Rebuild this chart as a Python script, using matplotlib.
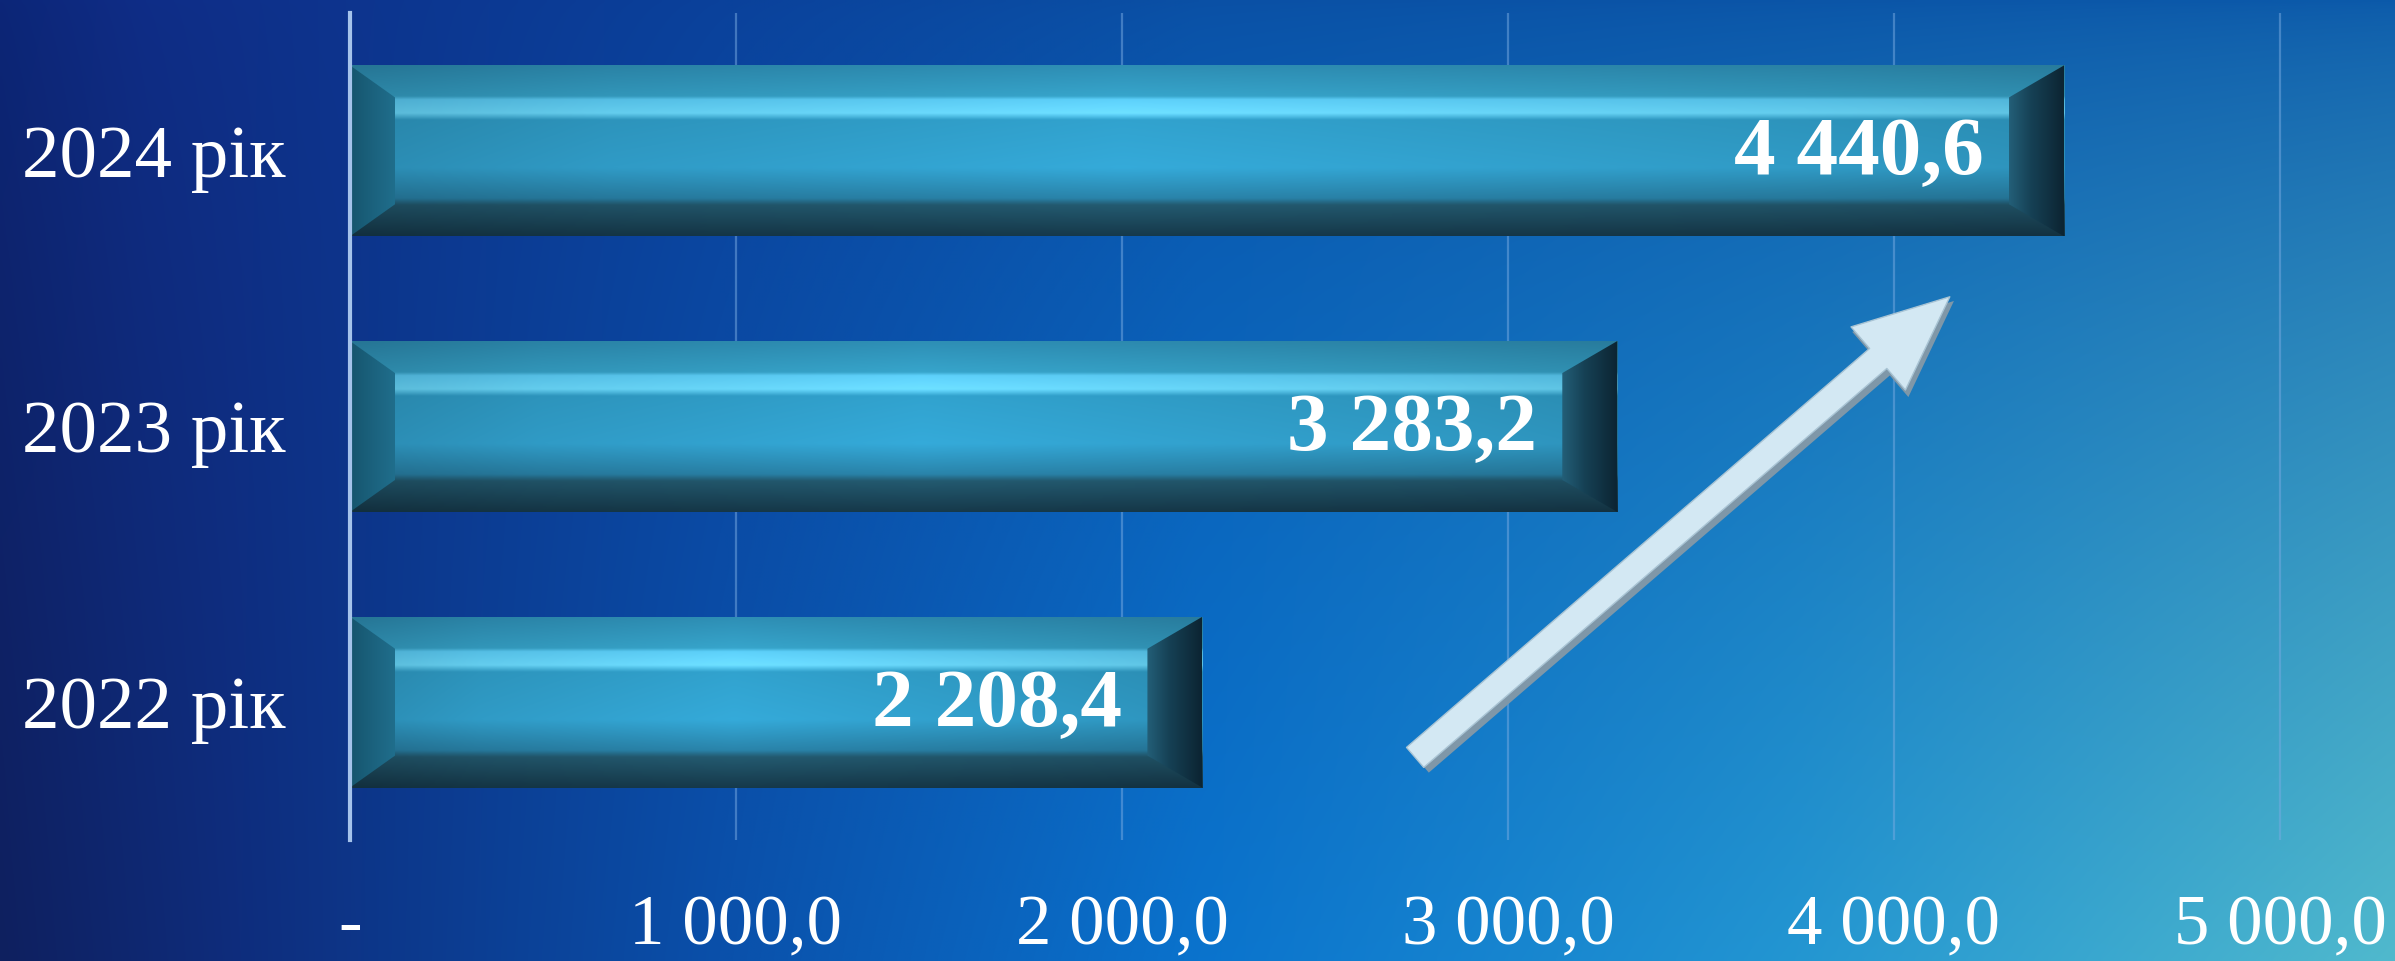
import numpy as np
import matplotlib
matplotlib.use("Agg")
import matplotlib.pyplot as plt
import matplotlib.transforms as mtransforms
from matplotlib.patches import Polygon, FancyArrowPatch

# ---- data ----
categories = ["2022 рік", "2023 рік", "2024 рік"]
values = [2208.4, 3283.2, 4440.6]
value_labels = ["2 208,4", "3 283,2", "4 440,6"]
xticks = [0, 1000, 2000, 3000, 4000, 5000]
xtick_labels = ["-", "1 000,0", "2 000,0", "3 000,0", "4 000,0", "5 000,0"]

W, H, DPI = 23.95, 9.61, 100
fig = plt.figure(figsize=(W, H), dpi=DPI)

# ---- background gradient ----
def ramp(stops, n):
    xs = np.linspace(0, 1, n)
    pos = [s[0] for s in stops]
    cols = np.array([s[1] for s in stops], float) / 255.0
    return np.stack([np.interp(xs, pos, cols[:, k]) for k in range(3)], axis=1)

nx, ny = 600, 240
top = ramp([(0, (12, 38, 120)), (0.06, (15, 45, 135)), (0.3, (10, 65, 155)),
            (0.5, (10, 80, 165)), (1.0, (12, 90, 170))], nx)
bot = ramp([(0, (15, 32, 95)), (0.1, (14, 45, 125)), (0.3, (10, 80, 170)), (0.5, (10, 115, 205)),
            (0.75, (35, 150, 210)), (1.0, (80, 185, 205))], nx)
t = (np.linspace(0, 1, ny) ** 0.7)[:, None, None]
bg = top[None, :, :] * (1 - t) + bot[None, :, :] * t
bgax = fig.add_axes([0, 0, 1, 1], zorder=-10)
bgax.imshow(bg, aspect="auto", extent=(0, 1, 1, 0), interpolation="bilinear")
bgax.set_axis_off()

# ---- main axes ----
ax = fig.add_axes([350 / 2395, 121 / 961, 1 - 350 / 2395, (840 - 13) / 961])
ax.set_facecolor("none")
ypos = np.arange(len(categories))
bar_h = 0.62
bars = ax.barh(ypos, values, height=bar_h, color="#2b8db8", zorder=3)

xmax = 5298
ax.set_xlim(0, xmax)
ax.set_ylim(-0.5, 2.5)

# bevel sizes (pixels -> data)
ax_w_px = (2395 - 350)
ax_h_px = (840 - 13)
bwl = 45 * xmax / ax_w_px
bwr = 55 * xmax / ax_w_px
bh = 32 * 3.0 / ax_h_px

# vertical profile of bar face (top -> bottom)
prof = ramp([(0.0, (42, 130, 165)), (0.18, (50, 150, 185)), (0.20, (85, 190, 228)),
             (0.28, (100, 205, 238)), (0.32, (45, 148, 188)), (0.6, (48, 155, 198)),
             (0.78, (38, 120, 155)), (0.82, (32, 82, 102)), (1.0, (20, 52, 68))], 200)
hfac = np.interp(np.linspace(0, 1, 300), [0, 0.15, 0.45, 0.85, 1], [0.9, 1.0, 1.1, 1.0, 0.95])
face = np.clip(prof[:, None, :] * hfac[None, :, None], 0, 1)
rgrad = ramp([(0, (35, 95, 120)), (0.4, (22, 65, 85)), (1.0, (12, 36, 50))], 100)[None, :, :]
lgrad = ramp([(0, (22, 85, 110)), (1.0, (32, 110, 140))], 100)[None, :, :]

for b, v, y in zip(bars, values, ypos):
    y0, y1 = y - bar_h / 2, y + bar_h / 2
    im = ax.imshow(face, aspect="auto", extent=(0, v, y0, y1), zorder=4,
                   interpolation="bilinear")
    im.set_clip_path(b)
    left = Polygon([(0, y1), (bwl, y1 - bh), (bwl, y0 + bh), (0, y0)], closed=True,
                   facecolor="none", lw=0, zorder=5)
    ax.add_patch(left)
    iml = ax.imshow(lgrad, aspect="auto", extent=(0, bwl, y0, y1), zorder=5,
                    interpolation="bilinear")
    iml.set_clip_path(left)
    right = Polygon([(v, y1), (v - bwr, y1 - bh), (v - bwr, y0 + bh), (v, y0)],
                    closed=True, facecolor="none", lw=0, zorder=5)
    ax.add_patch(right)
    imr = ax.imshow(rgrad, aspect="auto", extent=(v - bwr, v, y0, y1), zorder=5,
                    interpolation="bilinear")
    imr.set_clip_path(right)

ax.set_xlim(0, xmax)
ax.set_ylim(-0.5, 2.5)

# value labels
for v, y, lab in zip(values, ypos, value_labels):
    ax.annotate(lab, (v, y), xytext=(-58, -3), textcoords="offset points",
                ha="right", va="center", color="white", fontsize=60,
                fontweight="bold", family="Liberation Serif", zorder=7)

# arrow (trend)
start = (2754, -0.207)
end = (4150, 1.477)
shadow = FancyArrowPatch(start, end,
                         arrowstyle="simple,head_length=7.0,head_width=6.2,tail_width=2.1",
                         mutation_scale=10, color="#7f97a8", lw=0, zorder=6)
shadow.set_transform(ax.transData + mtransforms.ScaledTranslation(3 / 72, -3 / 72, fig.dpi_scale_trans))
ax.add_patch(shadow)
arrow = FancyArrowPatch(start, end,
                        arrowstyle="simple,head_length=6.8,head_width=6.0,tail_width=1.9",
                        mutation_scale=10, facecolor="#d3e8f3", edgecolor="#a9c4d4", lw=1.0, zorder=6)
ax.add_patch(arrow)

# grid & spines
ax.set_xticks(xticks)
ax.set_xticklabels(xtick_labels)
ax.grid(axis="x", color=(120 / 255, 170 / 255, 225 / 255), alpha=0.5, lw=1.6, zorder=1)
ax.set_axisbelow(True)
for s in ["top", "right", "bottom"]:
    ax.spines[s].set_visible(False)
ax.spines["left"].set_color((165 / 255, 195 / 255, 235 / 255))
ax.spines["left"].set_linewidth(3)
ax.spines["left"].set_zorder(8)

ax.set_yticks(ypos)
ax.set_yticklabels(categories)
ax.tick_params(axis="both", length=0, colors="white")
ax.tick_params(axis="x", pad=39, labelsize=51)
ax.tick_params(axis="y", pad=46, labelsize=54)
for lab in ax.get_xticklabels() + ax.get_yticklabels():
    lab.set_family("Liberation Serif")
    lab.set_color("white")

fig.savefig("out.png", dpi=DPI)
